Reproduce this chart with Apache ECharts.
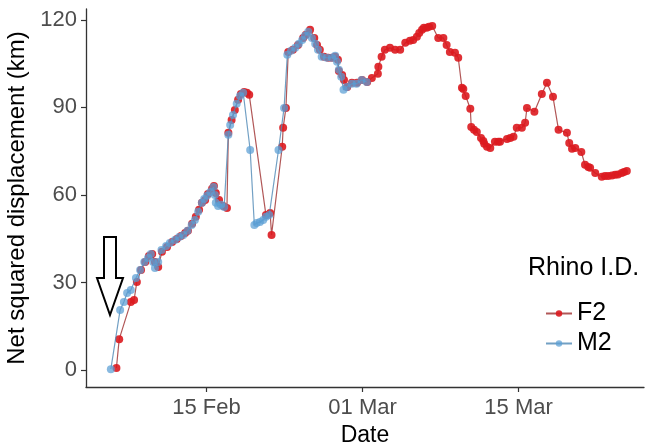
<!DOCTYPE html>
<html>
<head>
<meta charset="utf-8">
<script src="https://cdn.jsdelivr.net/npm/echarts@6/dist/echarts.min.js"></script>
<style>
  html, body { margin: 0; padding: 0; background: #ffffff; }
  #chart { width: 649px; height: 444px; }
</style>
</head>
<body>
<div id="chart"></div>
<script>
// GPS fixes, rhino F2
const f2Time = [
  '2015-02-06 22:00','2015-02-07 04:00','2015-02-08 05:00','2015-02-08 12:00','2015-02-08 18:00',
  '2015-02-09 03:00','2015-02-09 12:00','2015-02-09 20:00','2015-02-10 03:00','2015-02-10 09:00',
  '2015-02-10 16:00','2015-02-11 00:00','2015-02-11 11:00','2015-02-11 22:00','2015-02-12 08:00',
  '2015-02-12 17:00','2015-02-13 02:00','2015-02-13 08:00','2015-02-13 17:00','2015-02-14 01:00',
  '2015-02-14 08:00','2015-02-14 14:00','2015-02-14 21:00','2015-02-15 03:00','2015-02-15 12:00',
  '2015-02-15 16:00','2015-02-15 20:00','2015-02-16 03:00','2015-02-16 12:00','2015-02-16 20:00',
  '2015-02-16 23:00','2015-02-17 06:00','2015-02-17 13:00','2015-02-17 20:00','2015-02-18 02:00',
  '2015-02-18 09:00','2015-02-18 15:00','2015-02-18 20:00','2015-02-20 08:00','2015-02-20 17:00',
  '2015-02-20 20:00','2015-02-21 19:00','2015-02-21 21:00','2015-02-22 03:00','2015-02-22 08:00',
  '2015-02-22 18:00','2015-02-23 05:00','2015-02-23 16:00','2015-02-23 22:00','2015-02-24 07:00',
  '2015-02-24 16:00','2015-02-24 22:00','2015-02-25 04:00','2015-02-25 13:00','2015-02-25 22:00',
  '2015-02-26 06:00','2015-02-26 13:00','2015-02-26 19:00','2015-02-26 21:00','2015-02-27 04:00',
  '2015-02-27 08:00','2015-02-27 15:00','2015-02-28 01:00','2015-02-28 12:00','2015-02-28 23:00',
  '2015-03-01 10:00','2015-03-01 20:00','2015-03-02 09:00','2015-03-02 10:00','2015-03-02 17:00',
  '2015-03-03 00:00','2015-03-03 11:00','2015-03-03 22:00','2015-03-04 09:00','2015-03-04 20:00',
  '2015-03-05 06:00','2015-03-05 13:00','2015-03-05 21:00','2015-03-06 02:00','2015-03-06 08:00',
  '2015-03-06 12:00','2015-03-06 18:00','2015-03-06 23:00','2015-03-07 06:00','2015-03-07 19:00',
  '2015-03-08 06:00','2015-03-08 13:00','2015-03-08 20:00','2015-03-09 07:00','2015-03-09 14:00',
  '2015-03-09 22:00','2015-03-10 01:00','2015-03-10 06:00','2015-03-10 16:00','2015-03-10 18:00',
  '2015-03-11 00:00','2015-03-11 06:00','2015-03-11 15:00','2015-03-11 20:00','2015-03-11 22:00',
  '2015-03-12 04:00','2015-03-12 11:00','2015-03-12 21:00','2015-03-13 04:00','2015-03-13 08:00',
  '2015-03-13 23:00','2015-03-14 06:00','2015-03-14 13:00','2015-03-14 20:00','2015-03-15 07:00',
  '2015-03-15 14:00','2015-03-15 18:00','2015-03-16 10:00','2015-03-17 02:00','2015-03-17 13:00',
  '2015-03-18 02:00','2015-03-18 14:00','2015-03-19 08:00','2015-03-19 13:00','2015-03-19 19:00',
  '2015-03-20 02:00','2015-03-20 15:00','2015-03-20 23:00','2015-03-21 06:00','2015-03-21 10:00',
  '2015-03-21 21:00','2015-03-22 11:00','2015-03-22 18:00','2015-03-23 01:00','2015-03-23 09:00',
  '2015-03-23 16:00','2015-03-23 22:00','2015-03-24 06:00','2015-03-24 11:00','2015-03-24 17:00'
];
const f2Km = [
  0.7, 10.6, 23.3, 24.0, 30.2,
  34.3, 37.0, 39.1, 39.8, 37.0,
  35.3, 40.5, 42.2, 43.9, 44.9,
  45.9, 47.0, 47.7, 50.1, 52.5,
  54.9, 57.3, 58.3, 60.3, 62.1,
  63.1, 60.7, 58.3, 56.2, 55.5,
  81.3, 85.7, 89.1, 92.6, 94.6,
  95.3, 95.0, 94.3, 53.1, 53.8,
  46.3, 76.5, 83.0, 89.8, 109.0,
  109.7, 111.4, 113.8, 114.9, 116.6,
  113.8, 111.4, 109.7, 107.3, 107.0,
  107.0, 107.3, 106.3, 102.5, 101.1,
  99.4, 97.0, 98.4, 98.4, 99.4,
  98.7, 100.1, 101.5, 103.9, 107.3,
  109.7, 110.4, 109.7, 109.7, 112.1,
  112.8, 113.1, 114.2, 115.5, 116.6,
  117.3, 117.3, 117.6, 117.9, 113.8,
  113.8, 111.4, 109.0, 108.7, 107.0,
  96.7, 96.3, 93.9, 89.5, 83.3,
  82.3, 81.6, 79.5, 78.5, 77.5,
  76.5, 76.1, 78.2, 78.2, 78.2,
  79.2, 79.5, 79.9, 83.0, 83.0,
  84.7, 89.8, 88.5, 94.6, 98.4,
  93.6, 82.3, 81.3, 77.8, 75.8,
  76.1, 74.7, 70.3, 69.6, 69.3,
  67.5, 66.2, 66.5, 66.5, 66.7,
  66.9, 67.0, 67.5, 67.9, 68.2
];

// GPS fixes, rhino M2
const m2Time = [
  '2015-02-06 10:00','2015-02-07 06:00','2015-02-07 14:00','2015-02-07 21:00','2015-02-08 05:00',
  '2015-02-08 16:00','2015-02-09 01:00','2015-02-09 10:00','2015-02-09 18:00','2015-02-10 00:00',
  '2015-02-10 05:00','2015-02-10 09:00','2015-02-10 16:00','2015-02-10 23:00','2015-02-11 09:00',
  '2015-02-11 17:00','2015-02-12 04:00','2015-02-12 13:00','2015-02-12 22:00','2015-02-13 07:00',
  '2015-02-13 16:00','2015-02-13 23:00','2015-02-14 06:00','2015-02-14 14:00','2015-02-14 19:00',
  '2015-02-15 01:00','2015-02-15 08:00','2015-02-15 15:00','2015-02-15 18:00','2015-02-15 20:00',
  '2015-02-16 01:00','2015-02-16 07:00','2015-02-16 14:00','2015-02-16 23:00','2015-02-17 03:00',
  '2015-02-17 09:00','2015-02-17 17:00','2015-02-18 00:00','2015-02-18 07:00','2015-02-18 22:00',
  '2015-02-19 07:00','2015-02-19 12:00','2015-02-19 19:00','2015-02-20 02:00','2015-02-20 08:00',
  '2015-02-20 15:00','2015-02-21 11:00','2015-02-21 23:00','2015-02-22 06:00','2015-02-22 14:00',
  '2015-02-22 23:00','2015-02-23 07:00','2015-02-23 14:00','2015-02-23 20:00','2015-02-24 03:00',
  '2015-02-24 11:00','2015-02-24 18:00','2015-02-25 00:00','2015-02-25 08:00','2015-02-25 19:00',
  '2015-02-26 06:00','2015-02-26 13:00','2015-02-26 17:00','2015-02-26 21:00','2015-02-27 02:00',
  '2015-02-27 07:00','2015-02-27 14:00','2015-02-28 01:00','2015-02-28 11:00','2015-02-28 22:00',
  '2015-03-01 09:00'
];
const m2Km = [
  0.3, 20.6, 23.3, 26.4, 27.4,
  31.5, 34.3, 37.0, 38.4, 39.8,
  37.0, 35.0, 37.0, 41.1, 42.5,
  43.5, 44.6, 45.6, 46.3, 47.7,
  49.7, 51.4, 54.2, 57.3, 58.6,
  59.7, 61.0, 62.7, 60.0, 57.3,
  56.2, 56.6, 55.9, 80.6, 84.0,
  87.4, 91.2, 93.9, 95.0, 75.4,
  49.7, 50.4, 50.7, 51.4, 52.5,
  53.1, 75.4, 89.8, 108.0, 109.4,
  110.4, 111.8, 113.1, 114.5, 115.9,
  113.8, 111.8, 109.7, 107.3, 107.0,
  107.0, 107.7, 105.6, 102.9, 100.5,
  96.0, 97.0, 98.1, 98.1, 99.4,
  98.7
];

const yTicks = [0, 30, 60, 90, 120];
const xTicks = ['2015-02-15', '2015-03-01', '2015-03-15'];

const monthNames = ['Jan','Feb','Mar','Apr','May','Jun','Jul','Aug','Sep','Oct','Nov','Dec'];
const toMs = s => echarts.time.parse(s).getTime();
const pair = (times, vals) => times.map((t, i) => [toMs(t), vals[i]]);

const F2_COLOR = '#dc1a1f';
const M2_COLOR = '#5a9ed4';
const FONT = '"Liberation Sans", Arial, sans-serif';

const chart = echarts.init(document.getElementById('chart'), null, { renderer: 'canvas' });

chart.setOption({
  animation: false,
  backgroundColor: '#ffffff',
  textStyle: { fontFamily: FONT },
  grid: { left: 86, right: 5, top: 9, bottom: 57, containLabel: false, outerBoundsMode: 'none' },
  xAxis: {
    // numeric timestamps so tick positions can be pinned to the three dates
    type: 'value',
    min: toMs('2015-02-04 04:30'),
    max: toMs('2015-03-26 06:00'),
    name: 'Date',
    nameLocation: 'middle',
    nameGap: 33,
    nameTextStyle: { color: '#000000', fontSize: 23, fontFamily: FONT },
    axisLine: { show: true, onZero: false, lineStyle: { color: '#333333', width: 1.3 } },
    axisTick: { show: true, length: 5, lineStyle: { color: '#333333', width: 1.2 }, customValues: xTicks.map(toMs) },
    axisLabel: {
      color: '#4d4d4d', fontSize: 22, margin: 10, fontFamily: FONT,
      customValues: xTicks.map(toMs),
      formatter: v => {
        const d = new Date(v);
        return String(d.getDate()).padStart(2, '0') + ' ' + monthNames[d.getMonth()];
      }
    },
    splitLine: { show: false }
  },
  yAxis: {
    type: 'value',
    min: -5.8,
    max: 123.7,
    name: 'Net squared displacement (km)',
    nameLocation: 'middle',
    nameGap: 43,
    nameTextStyle: { color: '#000000', fontSize: 24, fontFamily: FONT },
    axisLine: { show: true, onZero: false, lineStyle: { color: '#333333', width: 1.3 } },
    axisTick: { show: true, length: 5, lineStyle: { color: '#333333', width: 1.2 }, customValues: yTicks },
    axisLabel: { color: '#4d4d4d', fontSize: 22, margin: 9, fontFamily: FONT, customValues: yTicks },
    splitLine: { show: false }
  },
  legend: {
    orient: 'vertical',
    left: 540,
    top: 296,
    itemWidth: 26,
    itemHeight: 8,
    itemGap: 5,
    textStyle: { color: '#000000', fontSize: 25, fontFamily: FONT },
    data: ['F2', 'M2']
  },
  graphic: [
    {
      type: 'text',
      left: 528,
      top: 256,
      style: { text: 'Rhino I.D.', fill: '#000000', font: '25px ' + FONT }
    },
    {
      type: 'polygon',
      shape: {
        points: [[104, 237], [116, 237], [116, 278], [123, 278], [110, 315], [97, 278], [104, 278]]
      },
      style: { fill: '#ffffff', stroke: '#000000', lineWidth: 2 },
      z: 10
    }
  ],
  series: [
    {
      name: 'F2',
      type: 'line',
      data: pair(f2Time, f2Km),
      symbol: 'circle',
      symbolSize: 8,
      showAllSymbol: true,
      itemStyle: { color: F2_COLOR, opacity: 0.9 },
      lineStyle: { color: '#a33a3a', width: 1.2, opacity: 0.85 },
      z: 2
    },
    {
      name: 'M2',
      type: 'line',
      data: pair(m2Time, m2Km),
      symbol: 'circle',
      symbolSize: 8,
      showAllSymbol: true,
      itemStyle: { color: M2_COLOR, opacity: 0.72 },
      lineStyle: { color: '#4f88b5', width: 1.2, opacity: 0.8 },
      z: 3
    }
  ]
});
</script>
</body>
</html>
